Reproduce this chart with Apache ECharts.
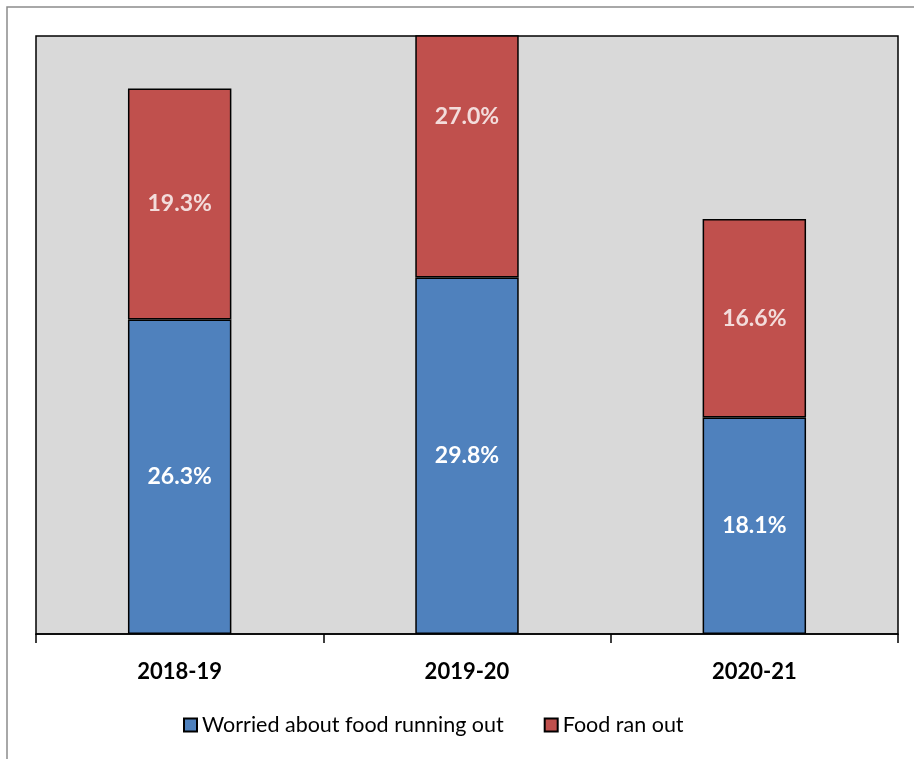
<!DOCTYPE html>
<html>
<head>
<meta charset="utf-8">
<script src="https://cdn.jsdelivr.net/npm/echarts@6/dist/echarts.min.js"></script>
<style>
  html, body { margin: 0; padding: 0; background: #fff; }
  #chart { width: 914px; height: 759px; }
</style>
</head>
<body>
<div id="chart"></div>
<script>
// Survey years and the two stacked food-insecurity measures (percent)
const years = ['2018-19', '2019-20', '2020-21'];
const worried = [26.3, 29.8, 18.1];
const ranOut = [19.3, 27.0, 16.6];
const seriesNames = ['Worried about food running out', 'Food ran out'];

const FONT = 'Lato, "Open Sans", "DejaVu Sans", sans-serif';

// Anchor for the upper labels: the middle of each upper segment
const ranOutLabelPos = years.map((y, i) => [y, worried[i] + ranOut[i] / 2]);

const chart = echarts.init(document.getElementById('chart'), null, { renderer: 'canvas' });
chart.setOption({
  animation: false,
  backgroundColor: '#fff',
  graphic: [{
    type: 'rect',
    shape: { x: 7, y: 7, width: 930, height: 780 },
    style: { fill: 'none', stroke: '#8c8c8c', lineWidth: 1.5 },
    silent: true
  }],
  grid: {
    left: 36, top: 36, right: 16, bottom: 125,
    show: true,
    backgroundColor: '#d9d9d9',
    borderColor: '#000',
    borderWidth: 1.5
  },
  legend: {
    data: seriesNames,
    bottom: 18,
    left: 178,
    icon: 'rect',
    itemWidth: 13,
    itemHeight: 13,
    itemGap: 40,
    textStyle: { fontFamily: FONT, fontSize: 21.5, color: '#000' }
  },
  xAxis: {
    type: 'category',
    data: years,
    axisLine: { lineStyle: { color: '#000', width: 1.5 } },
    axisTick: { show: true, length: 9, lineStyle: { color: '#000', width: 1.5 } },
    axisLabel: { margin: 27, fontFamily: FONT, fontSize: 22, fontWeight: 'bold', color: '#000' }
  },
  yAxis: {
    type: 'value',
    min: 0,
    max: 50,
    show: false,
    splitLine: { show: false }
  },
  series: [
    {
      name: seriesNames[0],
      type: 'bar',
      stack: 'total',
      barWidth: '36%',
      data: worried,
      itemStyle: { color: '#4f81bd', borderColor: '#000', borderWidth: 1.5 },
      label: {
        show: true,
        position: 'inside',
        formatter: p => p.value.toFixed(1) + '%',
        fontFamily: FONT, fontSize: 23, fontWeight: 'bold', color: '#fff'
      }
    },
    {
      name: seriesNames[1],
      type: 'bar',
      stack: 'total',
      barWidth: '36%',
      data: ranOut,
      itemStyle: { color: '#c0504d', borderColor: '#000', borderWidth: 1.5 },
      label: { show: false }
    },
    {
      name: 'ranOutLabels',
      type: 'scatter',
      symbolSize: 1,
      itemStyle: { color: 'rgba(0,0,0,0)' },
      data: ranOutLabelPos,
      label: {
        show: true,
        position: 'inside',
        formatter: p => ranOut[p.dataIndex].toFixed(1) + '%',
        fontFamily: FONT, fontSize: 23, fontWeight: 'bold', color: '#fff'
      },
      z: 5
    }
  ]
});
</script>
</body>
</html>
